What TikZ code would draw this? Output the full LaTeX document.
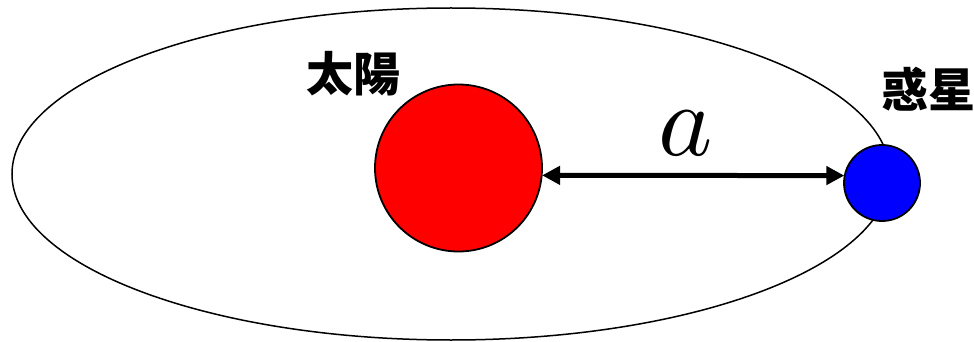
\documentclass[tikz,border=0pt]{standalone}
\usepackage{graphicx}
\usepackage{fontspec}
\newfontfamily\cjk{Noto Sans CJK JP}
\usetikzlibrary{arrows.meta}
\tikzset{
  orbit/.style={draw=black, line width=1.5pt},
  body/.style={circle, draw=black, line width=1.8pt, inner sep=0pt},
  label/.style={font=\cjk\bfseries\fontsize{47}{50}\selectfont, inner sep=0pt},
  dist/.style={line width=5pt, {Triangle[length=18pt,width=18pt]}-{Triangle[length=18pt,width=18pt]}, shorten <=-0.5pt, shorten >=-0.5pt}
}
\begin{document}
\begin{tikzpicture}[x=1pt,y=-1pt]
\useasboundingbox (0,0) rectangle (974,342);
\draw[orbit] (451,174) ellipse [x radius=439pt, y radius=166pt];
\node[body, fill=red, minimum size=167pt] (sun) at (458.5,168) {};
\node[body, fill=blue, minimum size=76pt] (planet) at (882,183) {};
\draw[dist] (sun.-5.5) -- (planet.169.4);
\node[inner sep=0pt] (a) at (686,133) {\scalebox{10.3}{$a$}};
\node[label] (sunlabel) at (353,74) {太陽};
\node[label] (planetlabel) at (928,89) {惑星};
\end{tikzpicture}
\end{document}
